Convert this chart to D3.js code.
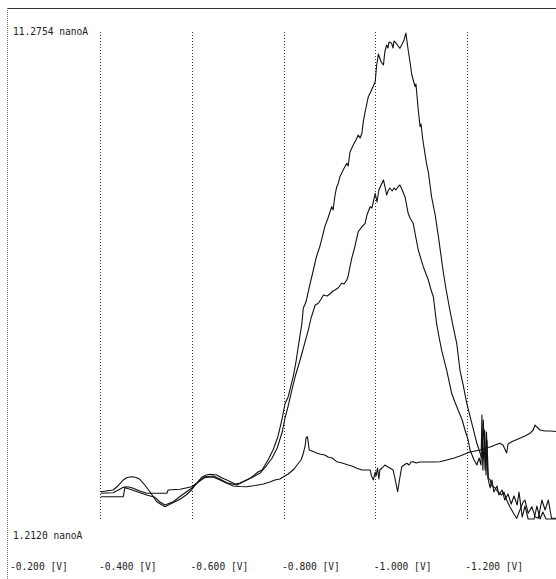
<!DOCTYPE html>
<html lang="en">
<head>
<meta charset="UTF-8">
<title>voltammogram</title>
<style>
  body{margin:0;background:#fff;}
  text{font-family:"DejaVu Sans Mono",monospace;font-size:9.6px;fill:#222;}
</style>
</head>
<body>
<script src="https://cdn.jsdelivr.net/npm/d3@7"></script>
<script>
// potentials in V, currents in nanoA
var aV=[-0.401,-0.428,-0.450,-0.465,-0.482,-0.501,-0.519,-0.530,-0.541,-0.559,
	-0.578,-0.599,-0.613,-0.628,-0.647,-0.661,-0.676,-0.698,-0.711,-0.727,
	-0.744,-0.753,-0.766,-0.777,-0.788,-0.797,-0.803,-0.810,-0.821,-0.827,
	-0.832,-0.840,-0.843,-0.847,-0.850,-0.858,-0.865,-0.871,-0.875,-0.879,
	-0.884,-0.890,-0.897,-0.905,-0.908,-0.912,-0.916,-0.919,-0.923,-0.930,
	-0.938,-0.941,-0.945,-0.952,-0.958,-0.963,-0.967,-0.971,-0.974,-0.978,
	-0.985,-0.989,-0.996,-1.000,-1.003,-1.007,-1.010,-1.013,-1.018,-1.021,
	-1.025,-1.028,-1.030,-1.036,-1.039,-1.041,-1.047,-1.050,-1.054,-1.059,
	-1.063,-1.067,-1.072,-1.076,-1.080,-1.083,-1.087,-1.089,-1.094,-1.098,
	-1.100,-1.104,-1.112,-1.116,-1.123,-1.131,-1.138,-1.149,-1.155,-1.163,
	-1.170,-1.178,-1.185,-1.192,-1.200,-1.211,-1.222,-1.229,-1.233,-1.236,
	-1.240,-1.243,-1.246,-1.251,-1.255,-1.259,-1.266,-1.270,-1.277,-1.283,
	-1.290,-1.297,-1.303,-1.310,-1.314,-1.321,-1.327,-1.334,-1.347,-1.353,
	-1.360,-1.366,-1.373,-1.395];
var aI=[1.744,1.757,1.868,1.827,1.771,1.709,1.661,1.564,1.502,1.570,
	1.709,1.848,1.978,2.088,2.102,2.040,1.964,1.916,1.978,2.055,
	2.185,2.227,2.434,2.641,2.931,3.303,3.593,3.744,4.159,4.463,
	4.780,5.264,5.581,5.664,5.747,6.093,6.368,6.617,6.741,6.850,
	7.031,7.265,7.445,7.679,7.610,7.900,8.093,8.149,8.300,8.439,
	8.577,8.522,8.811,8.956,9.060,9.163,9.101,9.199,9.439,9.640,
	9.957,10.033,10.178,10.267,10.592,10.841,10.758,10.675,10.613,10.882,
	11.027,10.965,11.089,11.062,10.965,11.110,11.048,11.006,10.959,11.048,
	11.131,11.275,10.924,10.675,10.406,10.302,10.164,10.220,9.681,9.335,
	9.391,9.060,8.577,8.397,7.886,7.507,7.058,6.300,5.954,5.540,
	5.208,4.850,4.297,3.987,3.608,3.194,2.780,2.579,2.475,3.262,
	2.227,3.013,2.061,1.854,2.020,1.771,1.895,1.709,1.813,1.605,
	1.730,1.523,1.688,1.502,1.771,1.253,1.481,1.212,1.212,1.481,
	1.212,1.357,1.212,1.212];

var bV=[-0.401,-0.428,-0.438,-0.450,-0.458,-0.468,-0.478,-0.486,-0.497,-0.508,
	-0.523,-0.541,-0.556,-0.574,-0.587,-0.599,-0.609,-0.621,-0.631,-0.639,
	-0.654,-0.666,-0.676,-0.694,-0.705,-0.719,-0.733,-0.748,-0.762,-0.775,
	-0.786,-0.797,-0.803,-0.810,-0.818,-0.825,-0.836,-0.845,-0.854,-0.860,
	-0.869,-0.876,-0.882,-0.887,-0.895,-0.901,-0.908,-0.912,-0.919,-0.927,
	-0.932,-0.938,-0.941,-0.945,-0.949,-0.956,-0.963,-0.969,-0.978,-0.982,
	-0.989,-0.993,-1.000,-1.004,-1.008,-1.013,-1.018,-1.021,-1.025,-1.029,
	-1.032,-1.037,-1.041,-1.045,-1.050,-1.054,-1.059,-1.065,-1.072,-1.076,
	-1.083,-1.089,-1.094,-1.105,-1.116,-1.122,-1.127,-1.134,-1.139,-1.145,
	-1.156,-1.167,-1.174,-1.181,-1.190,-1.196,-1.203,-1.207,-1.216,-1.222,
	-1.227,-1.231,-1.233,-1.235,-1.239,-1.242,-1.244,-1.247,-1.251,-1.255,
	-1.262,-1.268,-1.276,-1.281,-1.287,-1.294,-1.302,-1.309,-1.316,-1.323,
	-1.327,-1.334,-1.342,-1.349,-1.356,-1.364,-1.371,-1.378,-1.385,-1.395];
var bI=[1.777,1.813,1.895,2.020,2.071,2.088,2.071,2.034,1.916,1.777,
	1.570,1.467,1.537,1.620,1.709,1.813,1.937,2.076,2.123,2.138,
	2.123,2.061,2.020,1.937,1.957,2.020,2.082,2.158,2.309,2.475,
	2.682,3.013,3.303,3.552,3.883,4.152,4.504,4.815,5.126,5.374,
	5.643,5.678,5.768,5.850,5.830,5.871,5.933,5.954,5.995,6.093,
	6.078,6.161,6.244,6.436,6.617,6.865,7.161,7.238,7.335,7.507,
	7.679,7.652,7.956,7.776,8.025,8.128,8.232,8.107,7.921,8.025,
	8.066,8.004,8.066,8.025,8.093,8.128,8.025,7.886,7.542,7.445,
	7.335,7.031,6.782,6.436,6.161,5.954,5.815,5.264,5.001,4.711,
	4.297,3.815,3.635,3.469,3.262,3.055,2.848,2.641,2.434,2.330,
	2.475,2.330,3.366,2.227,3.055,2.123,2.848,2.061,2.020,1.895,
	1.854,1.771,1.709,1.771,1.605,1.467,1.330,1.226,1.398,1.564,
	1.605,1.330,1.467,1.260,1.226,1.605,1.398,1.605,1.226,1.226];

var cV=[-0.401,-0.450,-0.454,-0.462,-0.472,-0.486,-0.501,-0.519,-0.545,-0.548,
	-0.563,-0.574,-0.587,-0.599,-0.611,-0.625,-0.635,-0.647,-0.661,-0.676,
	-0.690,-0.705,-0.719,-0.738,-0.756,-0.770,-0.781,-0.792,-0.799,-0.810,
	-0.823,-0.831,-0.838,-0.842,-0.847,-0.849,-0.852,-0.854,-0.856,-0.862,
	-0.872,-0.879,-0.890,-0.897,-0.906,-0.916,-0.928,-0.941,-0.949,-0.960,
	-0.971,-0.980,-0.989,-0.992,-0.996,-1.000,-1.002,-1.005,-1.008,-1.010,
	-1.015,-1.021,-1.028,-1.032,-1.039,-1.043,-1.049,-1.053,-1.058,-1.063,
	-1.069,-1.074,-1.078,-1.083,-1.089,-1.098,-1.109,-1.120,-1.131,-1.141,
	-1.156,-1.171,-1.185,-1.200,-1.207,-1.218,-1.229,-1.240,-1.251,-1.262,
	-1.272,-1.279,-1.283,-1.287,-1.290,-1.298,-1.312,-1.327,-1.338,-1.345,
	-1.349,-1.353,-1.360,-1.371,-1.382,-1.395];
var cI=[1.674,1.674,1.881,1.875,1.848,1.792,1.744,1.744,1.744,1.813,
	1.823,1.827,1.854,1.881,1.957,2.055,2.082,2.076,2.020,1.951,
	1.895,1.885,1.881,1.906,1.937,1.978,2.020,2.040,2.082,2.144,
	2.247,2.351,2.434,2.537,2.724,2.889,2.916,2.786,2.641,2.620,
	2.579,2.558,2.537,2.496,2.475,2.399,2.372,2.330,2.309,2.262,
	2.227,2.227,2.227,2.102,2.020,2.185,2.102,2.268,2.040,2.227,
	2.268,2.330,2.289,2.268,2.227,2.061,1.777,2.020,2.295,2.330,
	2.365,2.330,2.392,2.399,2.372,2.392,2.392,2.392,2.392,2.399,
	2.434,2.469,2.516,2.572,2.599,2.620,2.641,2.682,2.703,2.744,
	2.780,2.744,2.662,2.579,2.765,2.813,2.869,2.931,2.986,3.055,
	3.158,3.117,3.055,3.034,3.034,3.024];

var xTicks=[-0.2,-0.4,-0.6,-0.8,-1.0,-1.2];
var yMax=11.2754, yMin=1.2120;

var width=556, height=579;
var svg=d3.select('body')
		.append('svg')
		.attr('width',width)
		.attr('height',height);

var xScale=d3.scaleLinear()
		.domain([-0.2,-1.4])
		.range([8.8,558.4]);
var yScale=d3.scaleLinear()
		.domain([yMin,yMax])
		.range([519,33]);

// frame: solid top edge, dotted left edge
svg.append('line')
	.attr('x1',7).attr('x2',556)
	.attr('y1',8.5).attr('y2',8.5)
	.attr('stroke','#333')
	.attr('stroke-width',1.2);
svg.append('line')
	.attr('x1',7.5).attr('x2',7.5)
	.attr('y1',8).attr('y2',579)
	.attr('stroke','#777')
	.attr('stroke-dasharray','1,1');

// dotted verticals at each tick except the first
svg.selectAll('.grid')
	.data(xTicks.slice(1))
	.enter()
	.append('line')
	.attr('class','grid')
	.attr('x1',function(d){ return Math.round(xScale(d))+0.5; })
	.attr('x2',function(d){ return Math.round(xScale(d))+0.5; })
	.attr('y1',yScale(yMax)-1)
	.attr('y2',yScale(yMin))
	.attr('stroke','#333')
	.attr('stroke-dasharray','1,2');

var line=d3.line()
	.x(function(d){ return xScale(d[0]); })
	.y(function(d){ return yScale(d[1]); });

var series=[d3.zip(cV,cI),d3.zip(bV,bI),d3.zip(aV,aI)];
svg.selectAll('.curve')
	.data(series)
	.enter()
	.append('path')
	.attr('class','curve')
	.attr('d',line)
	.attr('fill','none')
	.attr('stroke','#111')
	.attr('stroke-width',1.1)
	.attr('stroke-linejoin','round');

// y extremes
svg.append('text')
	.attr('x',13).attr('y',35)
	.text(yMax.toFixed(4)+' nanoA');
svg.append('text')
	.attr('x',13).attr('y',539)
	.text(yMin.toFixed(4)+' nanoA');

// x labels
svg.selectAll('.xlab')
	.data(xTicks)
	.enter()
	.append('text')
	.attr('class','xlab')
	.attr('x',function(d){ return Math.max(10,xScale(d)-1.5); })
	.attr('y',570)
	.text(function(d){ return d.toFixed(3)+' [V]'; });
</script>
</body>
</html>
